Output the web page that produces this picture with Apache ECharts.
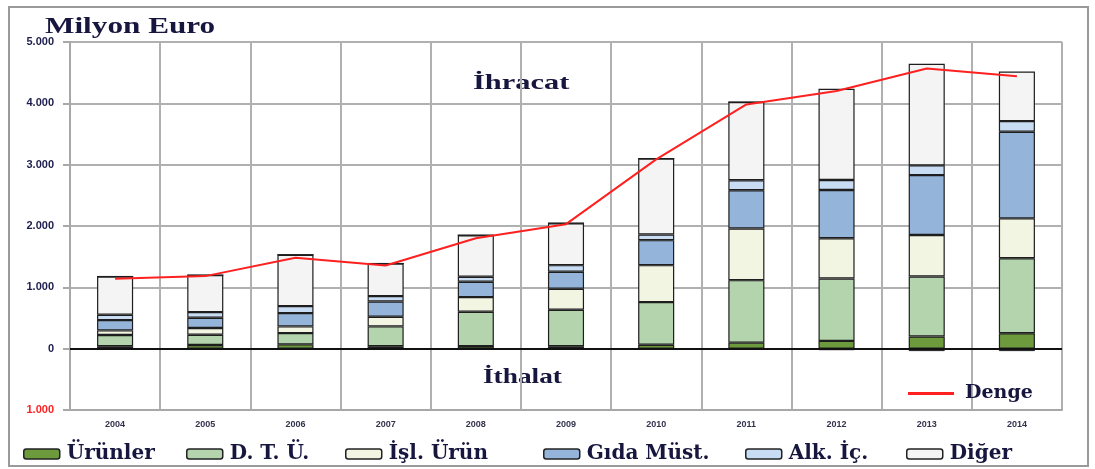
<!DOCTYPE html>
<html>
<head>
<meta charset="utf-8">
<script src="https://cdn.jsdelivr.net/npm/echarts@6/dist/echarts.min.js"></script>
<style>
  html, body { margin: 0; padding: 0; background: #fff; }
  #chart { width: 1095px; height: 469px; }
</style>
</head>
<body>
<div id="chart"></div>
<script>
"use strict";

// yillar
var years = ['2004', '2005', '2006', '2007', '2008', '2009', '2010', '2011', '2012', '2013', '2014'];

// ihracat kalemleri (milyon euro)
var urunler  = [40, 60, 70, 40, 42, 40, 65, 98, 127, 199, 252];
var dtu      = [182, 168, 184, 323, 560, 595, 694, 1019, 1016, 977, 1222];
var islUrun  = [76, 108, 109, 158, 239, 342, 603, 842, 657, 677, 651];
var gidaMust = [168, 169, 217, 249, 250, 277, 407, 624, 786, 977, 1412];
var alkIc    = [87, 91, 114, 87, 82, 108, 93, 163, 163, 159, 173];
var diger    = [624, 603, 837, 532, 677, 684, 1238, 1274, 1488, 1656, 810];

// ithalat (negatif kisim)
var gidaIthalat = [0, 0, 0, 0, 0, 0, 0, 0, -25, -40, -40];

// denge
var denge = [1140, 1183, 1482, 1357, 1800, 2030, 3086, 3982, 4200, 4567, 4443];

var yTicks = { min: -1000, max: 5000, step: 1000 };

var navy = '#16163e';
var serif = '"DejaVu Serif", "Liberation Serif", serif';
var times = '"Liberation Serif", "DejaVu Serif", serif';

function fmt(v) {
  var a = Math.abs(v);
  if (a === 0) return '0';
  var s = String(a);
  return s.replace(/\B(?=(\d{3})+(?!\d))/g, '.');
}

function barSeries(name, data, color) {
  return {
    name: name,
    type: 'bar',
    stack: 'ihracat',
    barWidth: '40%',
    data: data,
    itemStyle: {
      color: color,
      borderColor: '#1e1e1e',
      borderWidth: 1.2
    },
    emphasis: { disabled: true }
  };
}

function legendFor(name, left) {
  return {
    data: [name],
    left: left,
    top: 439,
    icon: 'roundRect',
    itemWidth: 36,
    itemHeight: 10,
    itemGap: 0,
    selectedMode: false,
    itemStyle: { borderColor: '#222', borderWidth: 1.5 },
    textStyle: {
      fontFamily: serif,
      fontWeight: 'bold',
      fontSize: 20,
      color: navy,
      padding: [0, 0, 0, 2]
    }
  };
}

var myChart = echarts.init(document.getElementById('chart'));

var option = {
  animation: false,
  grid: { left: 70, right: 33, top: 42, bottom: 59, containLabel: false },
  legend: [
    legendFor('Ürünler', 18),
    legendFor('D. T. Ü.', 181),
    legendFor('İşl. Ürün', 340),
    legendFor('Gıda Müst.', 538),
    legendFor('Alk. İç.', 740),
    legendFor('Diğer', 901),
    {
      data: ['Denge'],
      left: 903,
      top: 379,
      icon: 'rect',
      itemWidth: 46,
      itemHeight: 3,
      selectedMode: false,
      textStyle: {
        fontFamily: serif,
        fontWeight: 'bold',
        fontSize: 19,
        color: navy,
        padding: [0, 0, 0, 6]
      }
    }
  ],
  xAxis: [{
    type: 'category',
    data: years,
    boundaryGap: true,
    axisLine: { show: true, onZero: false, lineStyle: { color: '#a8a8a8', width: 2 } },
    axisTick: { show: false },
    axisLabel: {
      margin: 10,
      fontSize: 9,
      fontWeight: 'bold',
      color: '#33334d',
      fontFamily: '"Liberation Sans", Arial, sans-serif'
    },
    splitLine: { show: true, lineStyle: { color: '#b0b0b0', width: 2 } }
  }],
  yAxis: [{
    type: 'value',
    min: yTicks.min,
    max: yTicks.max,
    interval: yTicks.step,
    axisLine: { show: true, lineStyle: { color: '#a8a8a8', width: 2 } },
    axisTick: { show: true, length: 7, lineStyle: { color: '#a8a8a8', width: 2 } },
    axisLabel: {
      margin: 16,
      fontSize: 11,
      fontWeight: 'bold',
      fontFamily: '"Liberation Sans", Arial, sans-serif',
      formatter: fmt,
      color: function (v) { return Number(v) < 0 ? '#ff2020' : '#1c1c4c'; }
    },
    splitLine: { show: true, lineStyle: { color: '#b0b0b0', width: 2 } }
  }],
  series: [
    barSeries('Ürünler', urunler, '#6e9a3e'),
    barSeries('D. T. Ü.', dtu, '#b3d4ad'),
    barSeries('İşl. Ürün', islUrun, '#f1f5e2'),
    barSeries('Gıda Müst.', gidaMust, '#95b4da'),
    barSeries('Alk. İç.', alkIc, '#c8dcf3'),
    barSeries('Diğer', diger, '#f4f4f4'),
    {
      name: 'Gıda Müst. ithalat',
      type: 'bar',
      stack: 'ihracat',
      barWidth: '40%',
      data: gidaIthalat,
      itemStyle: { color: '#5a7390', borderColor: '#1e1e1e', borderWidth: 1 },
      emphasis: { disabled: true },
      markLine: {
        silent: true,
        symbol: 'none',
        label: { show: false },
        lineStyle: { color: '#111', width: 2, type: 'solid' },
        data: [{ yAxis: 0 }]
      }
    },
    {
      name: 'Denge',
      type: 'line',
      data: denge,
      symbol: 'none',
      z: 5,
      itemStyle: { color: '#ff2020' },
      lineStyle: { color: '#ff2020', width: 2 }
    }
  ],
  graphic: [
    {
      type: 'rect',
      shape: { x: 9, y: 7, width: 1079, height: 459 },
      style: { fill: 'none', stroke: '#9a9a9a', lineWidth: 2 },
      silent: true,
      z: -1
    },
    {
      type: 'text',
      x: 45, y: 15,
      scaleX: 1.3,
      style: { text: 'Milyon Euro', font: 'bold 24px ' + times, fill: navy }
    },
    {
      type: 'text',
      x: 473, y: 73,
      scaleX: 1.45,
      style: { text: 'İhracat', font: 'bold 21px ' + times, fill: navy }
    },
    {
      type: 'text',
      x: 483, y: 367,
      scaleX: 1.3,
      style: { text: 'İthalat', font: 'bold 21px ' + times, fill: navy }
    }
  ]
};

myChart.setOption(option);
</script>
</body>
</html>
